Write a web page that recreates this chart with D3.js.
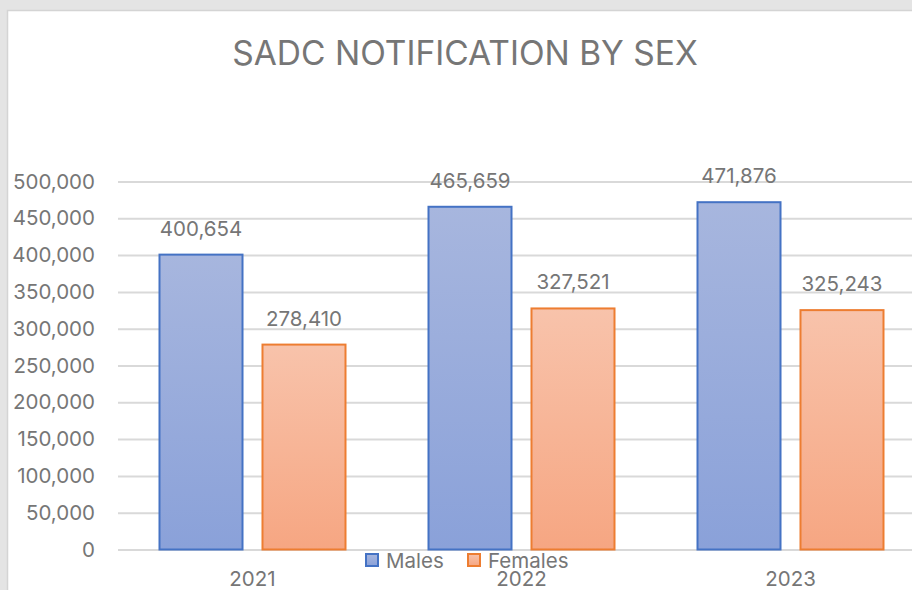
<!DOCTYPE html>
<html>
<head>
<meta charset="utf-8">
<script src="https://cdn.jsdelivr.net/npm/d3@7"></script>
<style>
	body { margin: 0; background: #e4e4e4; overflow: hidden; }
	text { font-family: Inter, "Liberation Sans", Arial, sans-serif; fill: #767676; }
</style>
</head>
<body>
<div id="chart"></div>
<script>

	///////////////////////////////////////////////////////////////////////////
	///////////////////////////////// Data ////////////////////////////////////
	///////////////////////////////////////////////////////////////////////////

	var years = ["2021", "2022", "2023"];
	var seriesNames = ["Males", "Females"];
	var males = [400654, 465659, 471876];
	var females = [278410, 327521, 325243];
	var yTicks = [0, 50000, 100000, 150000, 200000, 250000, 300000, 350000, 400000, 450000, 500000];

	var data = years.map(function(y, i) {
		return { year: y, values: [
			{ key: "Males", value: males[i] },
			{ key: "Females", value: females[i] }
		]};
	});

	///////////////////////////////////////////////////////////////////////////
	//////////////////// Set up and initiate svg container ////////////////////
	///////////////////////////////////////////////////////////////////////////

	var width = 912, height = 590;

	var svg = d3.select("#chart").append("svg")
		.attr("width", width)
		.attr("height", height);

	//White chart panel, runs off the right and bottom edge
	svg.append("rect")
		.attr("x", 7.5)
		.attr("y", 10.5)
		.attr("width", 960)
		.attr("height", 640)
		.style("fill", "#ffffff")
		.style("stroke", "#d4d4d4")
		.style("stroke-width", 1.5);

	var plot = { left: 118, right: 925, top: 181.5, bottom: 549.5 };

	var x0 = d3.scaleBand()
		.domain(years)
		.range([plot.left, plot.right])
		.padding(0);

	var groupWidth = 186;
	var x1 = d3.scaleBand()
		.domain(seriesNames)
		.range([0, groupWidth])
		.paddingInner(0.194)
		.paddingOuter(0);

	var y = d3.scaleLinear()
		.domain([0, 500000])
		.range([plot.bottom, plot.top]);

	var fmt = d3.format(",");
	var fontSize = "20.5px";

	///////////////////////////////////////////////////////////////////////////
	/////////////////////////// Gradients /////////////////////////////////////
	///////////////////////////////////////////////////////////////////////////

	var defs = svg.append("defs");
	var gradColours = {
		Males: ["#a7b6de", "#8aa1d9"],
		Females: ["#f8c3ab", "#f6a682"]
	};
	var strokeColours = { Males: "#4472c4", Females: "#ed7d31" };

	seriesNames.forEach(function(s) {
		var g = defs.append("linearGradient")
			.attr("id", "grad-" + s)
			.attr("x1", "0%").attr("y1", "0%")
			.attr("x2", "0%").attr("y2", "100%");
		g.append("stop").attr("offset", 0).attr("stop-color", gradColours[s][0]);
		g.append("stop").attr("offset", 1).attr("stop-color", gradColours[s][1]);
	});

	///////////////////////////////////////////////////////////////////////////
	//////////////////////////// Axes and grid ////////////////////////////////
	///////////////////////////////////////////////////////////////////////////

	var yAxis = svg.append("g")
		.attr("class", "y-axis")
		.attr("transform", "translate(" + plot.left + ",0)")
		.call(d3.axisLeft(y)
			.tickValues(yTicks)
			.tickFormat(fmt)
			.tickSize(-(plot.right - plot.left))
			.tickPadding(23));

	yAxis.select(".domain").remove();
	yAxis.selectAll(".tick line")
		.style("stroke", "#d9d9d9")
		.style("stroke-width", 2);
	yAxis.selectAll(".tick text")
		.style("font-size", fontSize)
		.style("fill", "#767676");

	var xAxis = svg.append("g")
		.attr("class", "x-axis")
		.attr("transform", "translate(0," + plot.bottom + ")")
		.call(d3.axisBottom(x0).tickSize(0).tickPadding(22));

	xAxis.select(".domain").remove();
	xAxis.selectAll(".tick text")
		.style("font-size", fontSize)
		.style("fill", "#767676");

	///////////////////////////////////////////////////////////////////////////
	////////////////////////////// The bars ///////////////////////////////////
	///////////////////////////////////////////////////////////////////////////

	var groups = svg.selectAll(".year-group")
		.data(data)
		.enter().append("g")
		.attr("class", "year-group")
		.attr("transform", function(d) {
			return "translate(" + (x0(d.year) + (x0.bandwidth() - groupWidth) / 2) + ",0)";
		});

	groups.selectAll(".bar")
		.data(function(d) { return d.values; })
		.enter().append("rect")
		.attr("class", "bar")
		.attr("x", function(d) { return x1(d.key); })
		.attr("y", function(d) { return y(d.value); })
		.attr("width", x1.bandwidth())
		.attr("height", function(d) { return y(0) - y(d.value); })
		.style("fill", function(d) { return "url(#grad-" + d.key + ")"; })
		.style("stroke", function(d) { return strokeColours[d.key]; })
		.style("stroke-width", 2);

	groups.selectAll(".label")
		.data(function(d) { return d.values; })
		.enter().append("text")
		.attr("class", "label")
		.attr("x", function(d) { return x1(d.key) + x1.bandwidth() / 2; })
		.attr("y", function(d) { return y(d.value) - 19; })
		.attr("text-anchor", "middle")
		.style("font-size", fontSize)
		.text(function(d) { return fmt(d.value); });

	///////////////////////////////////////////////////////////////////////////
	///////////////////////////// Title & legend //////////////////////////////
	///////////////////////////////////////////////////////////////////////////

	svg.append("text")
		.attr("x", 465)
		.attr("y", 65)
		.attr("text-anchor", "middle")
		.style("font-size", "33.5px")
		.text("SADC NOTIFICATION BY SEX");

	var legendX = { Males: 365, Females: 467 };
	var legend = svg.selectAll(".legend")
		.data(seriesNames)
		.enter().append("g")
		.attr("class", "legend")
		.attr("transform", function(d) { return "translate(" + legendX[d] + ",553)"; });

	legend.append("rect")
		.attr("x", 1).attr("y", 1)
		.attr("width", 12).attr("height", 12)
		.style("fill", function(d) { return "url(#grad-" + d + ")"; })
		.style("stroke", function(d) { return strokeColours[d]; })
		.style("stroke-width", 2);

	legend.append("text")
		.attr("x", 21)
		.attr("y", 14.5)
		.style("font-size", fontSize)
		.text(function(d) { return d; });

</script>
</body>
</html>
